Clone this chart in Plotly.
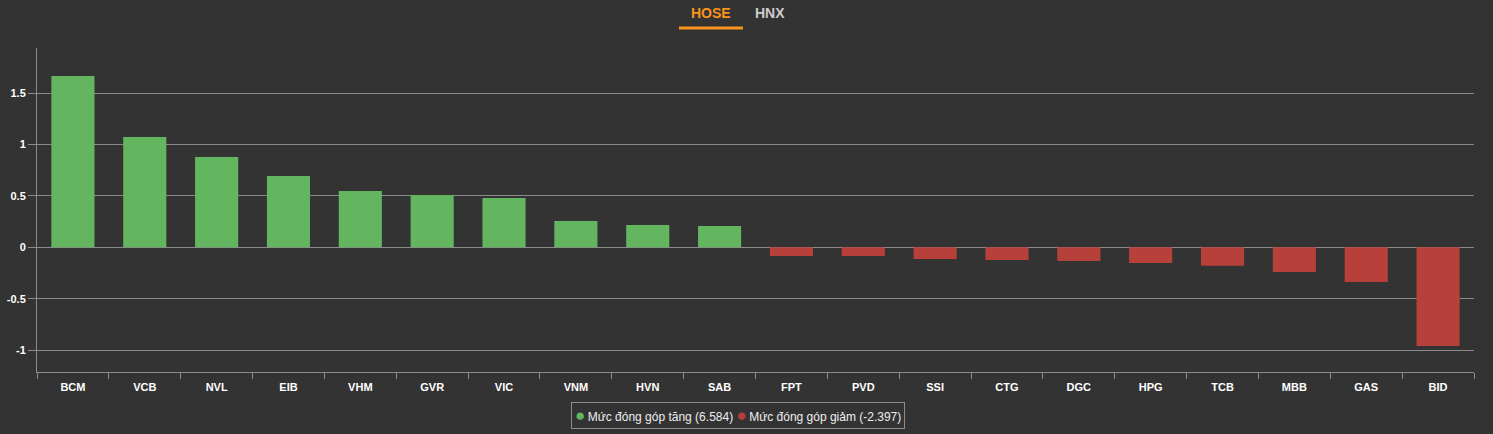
import plotly.graph_objects as go

codes = ["BCM","VCB","NVL","EIB","VHM","GVR","VIC","VNM","HVN","SAB",
         "FPT","PVD","SSI","CTG","DGC","HPG","TCB","MBB","GAS","BID"]
values = [1.668,1.073,0.878,0.694,0.548,0.509,0.480,0.256,0.218,0.207,
          -0.085,-0.085,-0.114,-0.124,-0.134,-0.153,-0.179,-0.240,-0.338,-0.961]
up_label = "Mức đóng góp tăng (6.584)"
down_label = "Mức đóng góp giảm (-2.397)"
tabs = ["HOSE", "HNX"]
ytick_vals = [-1, -0.5, 0, 0.5, 1, 1.5]
ytick_text = ["-1", "-0.5", "0", "0.5", "1", "1.5"]

GREEN = "#63b65f"
RED = "#b8403b"
colors = [GREEN if v >= 0 else RED for v in values]

W, H = 1493, 434
L, R, T, B = 37, 19, 48, 62
PW, PH = W - L - R, H - T - B

def px_x(x):
    return (x - L) / PW

def px_y(y):
    return (H - B - y) / PH

fig = go.Figure()
fig.add_trace(go.Bar(x=codes, y=values, marker=dict(color=colors, line=dict(width=0)),
                     showlegend=False, hoverinfo="x+y"))

fig.update_layout(
    width=W, height=H,
    paper_bgcolor="#333333", plot_bgcolor="#333333",
    margin=dict(l=L, r=R, t=T, b=B, autoexpand=False),
    bargap=0.4,
    showlegend=False,
    font=dict(family="Arial, Liberation Sans, sans-serif", color="#ffffff"),
    xaxis=dict(type="category", showgrid=False, showline=True, linecolor="#8c8c8c",
               linewidth=1, ticks="outside", tickson="boundaries", ticklen=6,
               tickcolor="#8c8c8c", tickvals=codes,
               ticktext=["<b>" + c + "</b>" for c in codes],
               ticklabelstandoff=5,
               tickfont=dict(size=11, color="#ffffff"), zeroline=False,
               range=[-0.5, 19.5]),
    yaxis=dict(range=[-1.214, 1.94], tickvals=ytick_vals,
               ticktext=["<b>" + t + "</b>" for t in ytick_text],
               showgrid=True, gridcolor="#8a8a8a", gridwidth=1,
               zeroline=True, zerolinecolor="#8a8a8a", zerolinewidth=1,
               showline=True, linecolor="#8c8c8c", ticks="outside", ticklen=8,
               tickcolor="#8c8c8c",
               tickfont=dict(size=11, color="#ffffff")),
)

fig.add_annotation(text="<b>" + tabs[0] + "</b>", xref="paper", yref="paper",
                   x=px_x(711), y=px_y(13), showarrow=False,
                   font=dict(size=14, color="#f7941d"), xanchor="center", yanchor="middle")
fig.add_annotation(text="<b>" + tabs[1] + "</b>", xref="paper", yref="paper",
                   x=px_x(770), y=px_y(13), showarrow=False,
                   font=dict(size=14, color="#cccccc"), xanchor="center", yanchor="middle")
fig.add_shape(type="line", xref="paper", yref="paper",
              x0=px_x(679), x1=px_x(743), y0=px_y(28), y1=px_y(28),
              line=dict(color="#f7941d", width=3))

legend_text = (f"<span style='color:{GREEN};font-size:17px'>●</span>\u2009{up_label} "
               f"<span style='color:{RED};font-size:17px'>●</span>\u2009{down_label}")
fig.add_annotation(text=legend_text, xref="paper", yref="paper",
                   x=px_x(737.5), y=px_y(415), showarrow=False,
                   xanchor="center", yanchor="middle",
                   font=dict(size=12, color="#eeeeee"),
                   bordercolor="#8c8c8c", borderwidth=1, borderpad=3)

fig.write_html("out.html")
